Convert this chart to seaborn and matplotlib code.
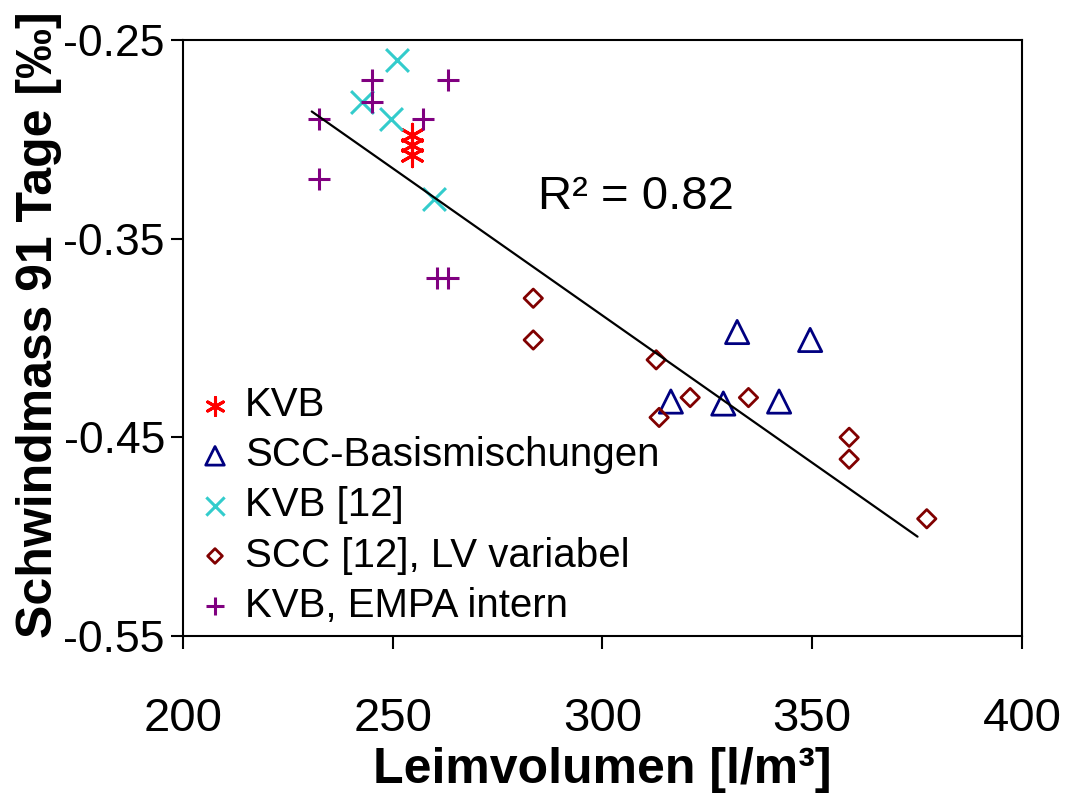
import numpy as np
import matplotlib
matplotlib.use("Agg")
import matplotlib.pyplot as plt
import seaborn as sns

# --- data ---
kvb_x = [254.5, 254.5, 254.5]
kvb_y = [-0.298, -0.303, -0.308]

scc_basis_x = [316.3, 328.8, 332.1, 342.1, 349.5]
scc_basis_y = [-0.432, -0.433, -0.397, -0.432, -0.401]

kvb12_x = [242.6, 249.7, 251.1, 259.8]
kvb12_y = [-0.281, -0.290, -0.260, -0.330]

scc12_x = [283.5, 283.5, 312.8, 313.5, 320.9, 334.8, 358.8, 358.8, 377.3]
scc12_y = [-0.380, -0.401, -0.411, -0.440, -0.430, -0.430, -0.450, -0.461, -0.491]

empa_x = [232.5, 232.5, 245.1, 245.1, 257.1, 263.1, 260.5, 263.1]
empa_y = [-0.290, -0.320, -0.270, -0.281, -0.290, -0.270, -0.370, -0.370]

# trend line end points (as drawn in the original)
trend_x = [230.7, 375.1]
trend_y = [-0.286, -0.500]
r2_text = "R² = 0.82"

x_ticks = [200, 250, 300, 350, 400]
y_ticks = [-0.25, -0.35, -0.45, -0.55]

sns.set_theme(style="white")
plt.rcParams["font.family"] = ["Liberation Sans", "DejaVu Sans"]
plt.rcParams["axes.unicode_minus"] = False
for key in ["text.color", "axes.labelcolor", "xtick.color", "ytick.color"]:
    plt.rcParams[key] = "black"

fig = plt.figure(figsize=(10.8, 7.93), dpi=100)
ax = fig.add_axes([0.1694, 0.198, 0.9463 - 0.1694, 0.9496 - 0.198])

sns.lineplot(x=trend_x, y=trend_y, color="black", linewidth=1.6, ax=ax)

sns.scatterplot(x=kvb_x, y=kvb_y, marker=(6, 2, 0), s=260, color="#FF0000",
                linewidth=2.2, label="KVB", ax=ax)
sns.scatterplot(x=scc_basis_x, y=scc_basis_y, marker="^", s=280, color="#000080",
                facecolor="none", edgecolor="#000080", linewidth=2.0,
                label="SCC-Basismischungen", ax=ax)
sns.scatterplot(x=kvb12_x, y=kvb12_y, marker="x", s=270, color="#33CCCC",
                linewidth=2.2, label="KVB [12]", ax=ax)
sns.scatterplot(x=scc12_x, y=scc12_y, marker="D", s=88, color="#800000",
                facecolor="none", edgecolor="#800000", linewidth=2.0,
                label="SCC [12], LV variabel", ax=ax)
sns.scatterplot(x=empa_x, y=empa_y, marker="+", s=250, color="#800080",
                linewidth=2.2, label="KVB, EMPA intern", ax=ax)

ax.text(308, -0.329, r2_text, fontsize=34, ha="center", va="center")

ax.set_xlim(200, 400)
ax.set_ylim(-0.55, -0.25)
ax.set_xticks(x_ticks)
ax.set_yticks(y_ticks)
ax.set_xticklabels([str(v) for v in x_ticks])
ax.set_yticklabels([f"{v:.2f}" for v in y_ticks])
ax.tick_params(axis="both", direction="out", length=9, width=1.5,
               color="black", bottom=True, left=True)
ax.tick_params(axis="x", labelsize=34, pad=35)
ax.tick_params(axis="y", labelsize=32, pad=4)

for sp in ax.spines.values():
    sp.set_color("black")
    sp.set_linewidth(1.5)
    sp.set_visible(True)

ax.set_xlabel("Leimvolumen [l/m³]", fontsize=36, fontweight="bold", labelpad=4)
ax.set_ylabel("Schwindmass 91 Tage [‰]", fontsize=36, fontweight="bold", labelpad=1)
ax.yaxis.label.set_y(0.522)

leg = ax.legend(loc="lower left", bbox_to_anchor=(-0.017, -0.008), frameon=False,
                fontsize=29, handletextpad=0.0, labelspacing=0.3,
                borderaxespad=0.0, handlelength=1.5, markerscale=0.8)

fig.savefig("out.png", dpi=100)
